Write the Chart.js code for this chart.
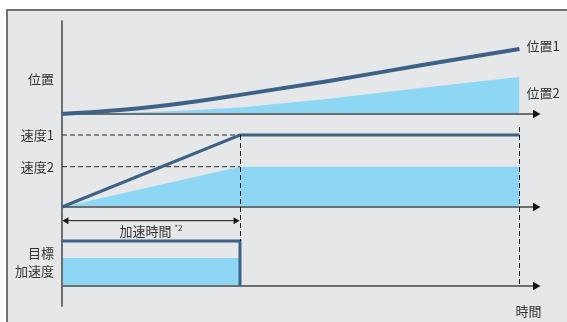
<!DOCTYPE html>
<html>
<head>
<meta charset="utf-8">
<script src="https://cdn.jsdelivr.net/npm/chart.js@4/dist/chart.umd.min.js"></script>
<style>
  body { margin: 0; background: #fff; }
  #wrap { position: relative; width: 567px; height: 322px; overflow: hidden; }
  #frame {
    position: absolute; left: 6px; top: 9px; width: 600px; height: 400px;
    background: #e6e7e9; border-top: 2px solid #707173; border-left: 2px solid #707173;
  }
  #chart { position: absolute; left: 0; top: 0; }
</style>
</head>
<body>
<div id="wrap">
  <div id="frame"></div>
  <canvas id="chart" width="567" height="322"></canvas>
</div>
<script>
// time axis: 1.0 = end of acceleration
const accelTime = 1.0;
const endTime = 2.57;
const axisEnd = 2.66;

// position panel (1 = position 1 at end time)
const positionTimes = [0, 0.25, 0.5, 0.75, 1.0, 1.5, 2.0, 2.57];
const position1 = [0, 0.045, 0.105, 0.19, 0.29, 0.5, 0.73, 0.985];
const position2 = [0, 0.012, 0.03, 0.06, 0.1, 0.23, 0.39, 0.56];

// speed panel (1 = speed 1)
const speedTimes = [0, 1.0, 2.57];
const speed1 = [0, 1, 1];
const speed2 = [0, 0.56, 0.56];

// acceleration panel (1 = target acceleration)
const accelTarget = 1;
const accelActual = 0.62;

const axisTop = 1.42;
const axisBottom = -2.92;
const accelArrowLevel = -0.19;

const labels = {
  position: "位置",
  position1: "位置1",
  position2: "位置2",
  speed1: "速度1",
  speed2: "速度2",
  target: "目標",
  accel: "加速度",
  accelTime: "加速時間",
  note: "*2",
  time: "時間",
};

const darkBlue = "#3d6286";
const lightBlue = "#8dd7f5";
const axisGray = "#6d6e70";
const ink = "#333333";

const pts = (xs, ys) => xs.map((x, i) => ({ x, y: ys[i] }));

const baseline = (axis) => ({
  data: [{ x: 0, y: 0 }, { x: axisEnd, y: 0 }],
  yAxisID: axis,
  borderColor: axisGray,
  borderWidth: 2,
  pointRadius: [0, 5],
  pointStyle: "triangle",
  pointRotation: 90,
  pointBackgroundColor: "#151515",
  pointBorderColor: "#151515",
  pointBorderWidth: 0,
});

const fillArea = (data, axis) => ({
  data,
  yAxisID: axis,
  borderWidth: 0,
  borderColor: "rgba(0,0,0,0)",
  backgroundColor: lightBlue,
  fill: "origin",
});

const guide = (level) => ({
  data: [{ x: 0, y: level }, { x: accelTime, y: level }],
  yAxisID: "yVel",
  borderColor: "#2a2a2a",
  borderWidth: 1,
  borderDash: [5, 3],
});

const overlay = {
  id: "overlay",
  afterDatasetsDraw(chart) {
    const { ctx } = chart;
    const { x, yPos, yVel, yAcc } = chart.scales;
    const x0 = x.getPixelForValue(0);
    const xA = Math.round(x.getPixelForValue(accelTime)) + 0.5;
    const xE = Math.round(x.getPixelForValue(endTime)) + 0.5;

    ctx.save();
    ctx.strokeStyle = "#1e1e1e";
    ctx.lineWidth = 1;
    ctx.setLineDash([5, 3]);
    ctx.beginPath();
    ctx.moveTo(xA, yVel.getPixelForValue(speed1[1]));
    ctx.lineTo(xA, yAcc.getPixelForValue(accelTarget));
    ctx.moveTo(xE, yVel.getPixelForValue(speed1[2]) - 8);
    ctx.lineTo(xE, yAcc.getPixelForValue(0));
    ctx.stroke();
    ctx.setLineDash([]);

    const font = '13px "Noto Sans CJK JP"';
    const small = '8px "Noto Sans CJK JP"';
    ctx.fillStyle = ink;
    ctx.font = font;
    ctx.textBaseline = "middle";
    ctx.textAlign = "right";
    const lx = x0 - 8;
    ctx.fillText(labels.position, lx, yPos.getPixelForValue(0) - 35);
    ctx.fillText(labels.speed1, lx, yVel.getPixelForValue(speed1[1]));
    ctx.fillText(labels.speed2, lx, yVel.getPixelForValue(speed2[1]));
    ctx.fillText(labels.target, lx, yAcc.getPixelForValue(accelTarget) + 12);
    ctx.fillText(labels.accel, lx, yAcc.getPixelForValue(accelTarget) + 30);

    ctx.textAlign = "left";
    const rx = xE + 7;
    ctx.fillText(labels.position1, rx, yPos.getPixelForValue(position1[position1.length - 1]) - 3);
    ctx.fillText(labels.position2, rx, yPos.getPixelForValue(position2[position2.length - 1]) + 16);
    ctx.fillText(labels.time, xE - 4, yAcc.getPixelForValue(0) + 25);

    const cy = yVel.getPixelForValue(accelArrowLevel) + 10;
    const cx = x.getPixelForValue(accelTime / 2);
    ctx.font = font;
    const w1 = ctx.measureText(labels.accelTime + " ").width;
    ctx.font = small;
    const w2 = ctx.measureText(labels.note).width;
    const start = cx - (w1 + w2) / 2;
    ctx.font = font;
    ctx.fillText(labels.accelTime, start, cy);
    ctx.font = small;
    ctx.fillText(labels.note, start + w1, cy - 3);
    ctx.restore();
  },
};

new Chart(document.getElementById("chart").getContext("2d"), {
  type: "line",
  data: {
    datasets: [
      {
        data: pts(positionTimes, position1),
        yAxisID: "yPos",
        borderColor: darkBlue,
        borderWidth: 4,
        cubicInterpolationMode: "monotone",
      },
      {
        data: pts(speedTimes, speed1),
        yAxisID: "yVel",
        borderColor: darkBlue,
        borderWidth: 3,
      },
      {
        data: [
          { x: 0, y: accelTarget },
          { x: accelTime, y: accelTarget },
          { x: accelTime, y: 0 },
        ],
        yAxisID: "yAcc",
        borderColor: darkBlue,
        borderWidth: 3,
      },
      {
        data: [
          { x: 0.025, y: accelArrowLevel },
          { x: accelTime - 0.025, y: accelArrowLevel },
        ],
        yAxisID: "yVel",
        borderColor: "#151515",
        borderWidth: 1,
        pointRadius: 4,
        pointStyle: "triangle",
        pointRotation: [-90, 90],
        pointBackgroundColor: "#151515",
        pointBorderColor: "#151515",
        pointBorderWidth: 0,
      },
      guide(speed1[1]),
      guide(speed2[1]),
      baseline("yPos"),
      baseline("yVel"),
      baseline("yAcc"),
      {
        data: [{ x: 0, y: axisTop }, { x: 0, y: axisBottom }],
        yAxisID: "yPos",
        borderColor: axisGray,
        borderWidth: 2,
      },
      fillArea(pts(positionTimes, position2), "yPos"),
      fillArea(pts(speedTimes, speed2), "yVel"),
      fillArea([{ x: 0, y: accelActual }, { x: accelTime, y: accelActual }], "yAcc"),
    ],
  },
  options: {
    responsive: false,
    animation: false,
    devicePixelRatio: 1,
    layout: { padding: 0, autoPadding: false },
    elements: { point: { radius: 0 }, line: { tension: 0 } },
    plugins: { legend: { display: false }, tooltip: { enabled: false } },
    scales: {
      x: { type: "linear", display: false, min: -0.3483, max: 2.8371 },
      yPos: { type: "linear", display: false, min: -3.1515, max: 1.7273 },
      yVel: { type: "linear", display: false, min: -1.5972, max: 2.875 },
      yAcc: { type: "linear", display: false, min: -0.8, max: 6.3556 },
    },
  },
  plugins: [overlay],
});
</script>
</body>
</html>
